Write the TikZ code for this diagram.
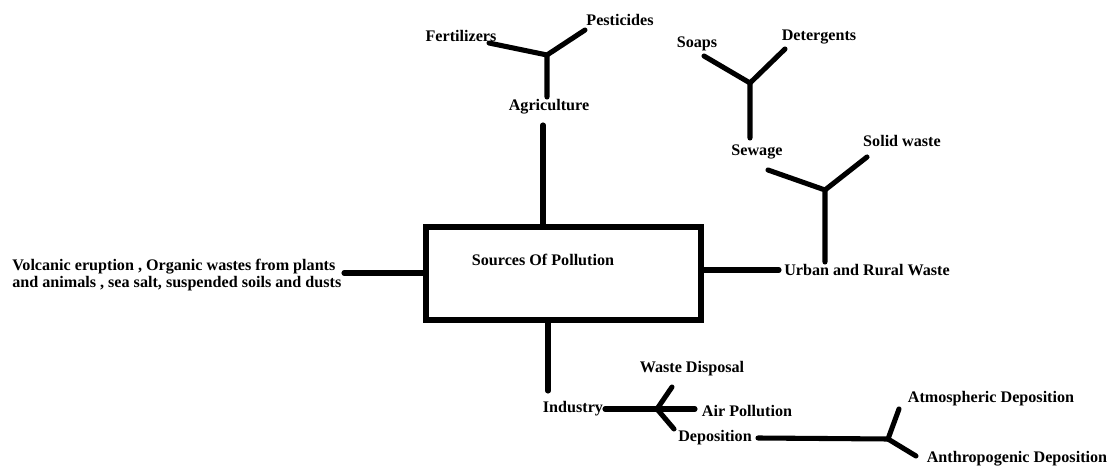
\documentclass[tikz,border=0pt]{standalone}
\usepackage{fontspec}
\setmainfont{Liberation Serif}
\begin{document}
\begin{tikzpicture}[x=0.75pt,y=-0.75pt,
  lbl/.style={inner sep=0pt,font=\fontsize{12.1}{13.3}\selectfont\bfseries},
  ln/.style={line width=3.8pt,line cap=round,line join=round},
  boxst/.style={draw,line width=4.2pt,minimum width=275*0.75pt,minimum height=93*0.75pt,inner sep=0pt}]
\useasboundingbox[fill=white] (0,0) rectangle (1111,466);
% central box
\node[boxst] (box) at (563.5,273.5) {};
\node[lbl] (src) at (543,260) {Sources Of Pollution};
% agriculture
\node[lbl] (agri) at (549,107) {Agriculture};
\node[lbl] (fert) at (461,36) {Fertilizers};
\node[lbl] (pest) at (620,20) {Pesticides};
\coordinate (agritop) at (543,125);
\coordinate (agribot) at (543,225);
\coordinate (aj) at (547,55);
\coordinate (as) at (547,97);
\coordinate (af) at (489,43);
\coordinate (ap) at (585,30);
\draw[ln] (agritop) -- (agribot);
\draw[ln] (as) -- (aj) -- (af);
\draw[ln] (aj) -- (ap);
% sewage
\node[lbl] (soaps) at (697,44) {Soaps};
\node[lbl] (det) at (819,37) {Detergents};
\node[lbl] (sew) at (757,152) {Sewage};
\coordinate (sj) at (750,83);
\coordinate (ss) at (750,138);
\coordinate (sa) at (704,56);
\coordinate (sd) at (785,49);
\draw[ln] (ss) -- (sj) -- (sa);
\draw[ln] (sj) -- (sd);
% urban
\node[lbl] (solid) at (902,141) {Solid waste};
\node[lbl] (urban) at (867,270) {Urban and Rural Waste};
\coordinate (uj) at (825,190);
\coordinate (us) at (825,262);
\coordinate (ul) at (768,170);
\coordinate (ur) at (867,157);
\draw[ln] (us) -- (uj) -- (ul);
\draw[ln] (uj) -- (ur);
\coordinate (boxr) at (703,270);
\coordinate (uend) at (779,270);
\draw[ln] (boxr) -- (uend);
% natural
\node[lbl,align=left,anchor=west] (nat) at (12,275) {Volcanic eruption , Organic wastes from plants\\[-1pt]and animals , sea salt, suspended soils and dusts};
\coordinate (nend) at (344,273);
\coordinate (boxl) at (424,273);
\draw[ln] (nend) -- (boxl);
% industry
\coordinate (boxb) at (548,322);
\coordinate (ibot) at (548,391);
\draw[ln] (boxb) -- (ibot);
\node[lbl] (ind) at (573,409) {Industry};
\node[lbl] (wd) at (692,369) {Waste Disposal};
\node[lbl] (ap2) at (747,411) {Air Pollution};
\node[lbl] (dep) at (715,438) {Deposition};
\coordinate (istart) at (605,409);
\coordinate (ij) at (657,409);
\coordinate (iair) at (695,409);
\coordinate (iwd) at (672,387);
\coordinate (idep) at (674,429);
\draw[ln] (istart) -- (iair);
\draw[ln] (iwd) -- (ij) -- (idep);
% deposition
\coordinate (dstart) at (758,438);
\coordinate (dj) at (888,439);
\coordinate (datm) at (899,409);
\coordinate (dant) at (916,456);
\draw[ln] (dstart) -- (dj) -- (datm);
\draw[ln] (dj) -- (dant);
\node[lbl] (atm) at (991,399) {Atmospheric Deposition};
\node[lbl] (anth) at (1017,459) {Anthropogenic Deposition};
\end{tikzpicture}
\end{document}
